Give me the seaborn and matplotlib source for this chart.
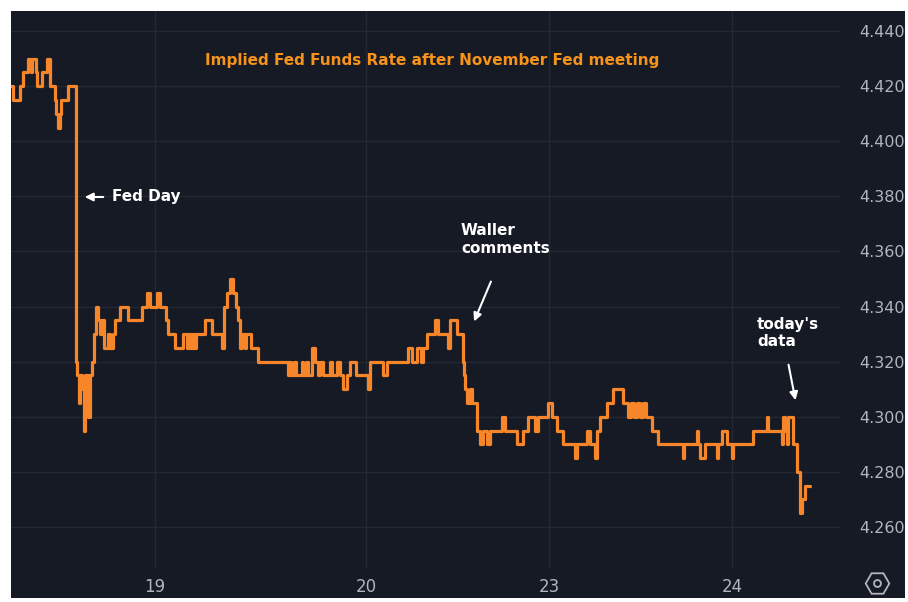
"""
Implied Fed Funds Rate after November Fed meeting - TradingView-style chart
"""

import pandas as pd
import matplotlib
matplotlib.use('Agg')
import matplotlib.pyplot as plt
from matplotlib.patches import Rectangle
import seaborn as sns

# Данные: номер бара (начало уровня) и ставка
bar = [0, 2, 9, 12, 17, 20, 21, 25, 26, 31,
       36, 39, 44, 45, 47, 49, 50, 57, 65, 66,
       68, 69, 71, 73, 74, 77, 79, 81, 83, 85,
       87, 89, 91, 93, 97, 99, 102, 104, 109, 117,
       131, 136, 139, 146, 149, 155, 157, 164, 172, 176,
       178, 180, 182, 183, 185, 194, 201, 211, 213, 216,
       219, 222, 225, 227, 229, 231, 234, 235, 240, 247,
       277, 279, 280, 283, 285, 291, 292, 295, 297, 301,
       304, 307, 309, 312, 319, 321, 326, 329, 332, 336,
       339, 345, 357, 359, 372, 376, 397, 401, 406, 410,
       412, 416, 424, 427, 437, 439, 446, 452, 453, 454,
       456, 459, 461, 466, 469, 472, 476, 479, 491, 494,
       506, 512, 517, 524, 527, 537, 541, 546, 552, 564,
       566, 576, 579, 584, 586, 589, 596, 602, 612, 617,
       620, 623, 626, 629, 632, 635, 641, 647, 672, 673,
       686, 687, 689, 694, 706, 707, 711, 716, 721, 722,
       742, 756, 757, 771, 772, 774, 776, 777, 782, 786,
       789, 791, 794, 799]
rate = [4.420, 4.415, 4.420, 4.425, 4.430, 4.425, 4.430, 4.425, 4.420, 4.425,
        4.430, 4.420, 4.415, 4.410, 4.405, 4.410, 4.415, 4.420, 4.320, 4.315,
        4.305, 4.315, 4.310, 4.295, 4.315, 4.300, 4.315, 4.320, 4.330, 4.340,
        4.335, 4.330, 4.335, 4.325, 4.330, 4.325, 4.330, 4.335, 4.340, 4.335,
        4.340, 4.345, 4.340, 4.345, 4.340, 4.335, 4.330, 4.325, 4.330, 4.325,
        4.330, 4.325, 4.330, 4.325, 4.330, 4.335, 4.330, 4.325, 4.340, 4.345,
        4.350, 4.345, 4.340, 4.335, 4.325, 4.330, 4.325, 4.330, 4.325, 4.320,
        4.315, 4.320, 4.315, 4.320, 4.315, 4.320, 4.315, 4.320, 4.315, 4.325,
        4.320, 4.315, 4.320, 4.315, 4.320, 4.315, 4.320, 4.315, 4.310, 4.315,
        4.320, 4.315, 4.310, 4.320, 4.315, 4.320, 4.325, 4.320, 4.325, 4.320,
        4.325, 4.330, 4.335, 4.330, 4.325, 4.335, 4.330, 4.320, 4.315, 4.310,
        4.305, 4.310, 4.305, 4.295, 4.290, 4.295, 4.290, 4.295, 4.300, 4.295,
        4.290, 4.295, 4.300, 4.295, 4.300, 4.305, 4.300, 4.295, 4.290, 4.285,
        4.290, 4.295, 4.290, 4.285, 4.295, 4.300, 4.305, 4.310, 4.305, 4.300,
        4.305, 4.300, 4.305, 4.300, 4.305, 4.300, 4.295, 4.290, 4.285, 4.290,
        4.295, 4.290, 4.285, 4.290, 4.285, 4.290, 4.295, 4.290, 4.285, 4.290,
        4.295, 4.300, 4.295, 4.290, 4.300, 4.295, 4.290, 4.300, 4.290, 4.280,
        4.265, 4.270, 4.275, 4.275]

day_ticks = [144, 355, 538, 721]
day_labels = ['19', '20', '23', '24']
y_ticks = [4.26, 4.28, 4.30, 4.32, 4.34, 4.36, 4.38, 4.40, 4.42, 4.44]

title = 'Implied Fed Funds Rate after November Fed meeting'

BG = '#161a25'
GRID = '#242833'
ORANGE = '#f7862b'
LABEL = '#b2b5be'

W, H = 908, 602


def fx(px):
    return px / W


def fy(py):
    return 1 - py / H


def main():
    sns.set_theme(style='dark', rc={'axes.facecolor': BG,
                                    'figure.facecolor': 'white'})
    plt.rcParams['font.family'] = ['DejaVu Sans']

    df = pd.DataFrame({'bar': bar, 'rate': rate})

    fig = plt.figure(figsize=(W / 100, H / 100), dpi=100)
    fig.patches.append(Rectangle((fx(11), fy(598)), fx(905) - fx(11),
                                 fy(11) - fy(598), transform=fig.transFigure,
                                 facecolor=BG, edgecolor='none', zorder=-10))
    ax = fig.add_axes([fx(11), fy(568), fx(840) - fx(11), fy(11) - fy(568)])

    sns.lineplot(data=df, x='bar', y='rate', ax=ax, color=ORANGE,
                 linewidth=2.3, drawstyle='steps-post', estimator=None)

    ax.set_xlim(0, 829)
    ax.set_ylim(4.2451, 4.4473)
    ax.set_xticks(day_ticks)
    ax.set_xticklabels(day_labels, family=['Liberation Sans Narrow', 'DejaVu Sans'])
    ax.set_yticks(y_ticks)
    ax.set_yticklabels([f'{v:.3f}' for v in y_ticks])
    ax.yaxis.tick_right()
    ax.tick_params(axis='y', colors=LABEL, labelsize=11.5, length=0, pad=14)
    ax.tick_params(axis='x', colors=LABEL, labelsize=12, length=0, pad=7)
    ax.grid(True, color=GRID, linewidth=1)
    for s in ax.spines.values():
        s.set_visible(False)
    ax.set_xlabel('')
    ax.set_ylabel('')

    # Заголовок и подписи
    fig.text(fx(432), fy(60), title, color='#f7931a', fontsize=11,
             fontweight='bold', ha='center', va='center')

    ann = dict(color='white', fontsize=11, fontweight='bold')
    arrow = dict(arrowstyle='-|>', color='white', lw=1.5, mutation_scale=12)

    fig.text(fx(112), fy(197), 'Fed Day', ha='left', va='center', **ann)
    ax.annotate('', xy=(fx(82), fy(197)), xytext=(fx(106), fy(197)),
                xycoords='figure fraction', arrowprops=arrow,
                annotation_clip=False)

    fig.text(fx(461), fy(240), 'Waller\ncomments', ha='left', va='center',
             linespacing=1.25, **ann)
    ax.annotate('', xy=(fx(473), fy(324)), xytext=(fx(492), fy(279)),
                xycoords='figure fraction', arrowprops=arrow,
                annotation_clip=False)

    fig.text(fx(757), fy(333), "today's\ndata", ha='left', va='center',
             linespacing=1.25, **ann)
    ax.annotate('', xy=(fx(796), fy(403)), xytext=(fx(788), fy(362)),
                xycoords='figure fraction', arrowprops=arrow,
                annotation_clip=False)

    # Иконка настроек
    fig.lines.append(plt.Line2D([fx(877)], [fy(583)], marker='H',
                                markersize=17, markerfacecolor='none',
                                markeredgecolor=LABEL, markeredgewidth=1.3,
                                transform=fig.transFigure))
    fig.lines.append(plt.Line2D([fx(877)], [fy(583)], marker='o',
                                markersize=5, markerfacecolor='none',
                                markeredgecolor=LABEL, markeredgewidth=1.3,
                                transform=fig.transFigure))

    fig.savefig('out.png', dpi=100, facecolor='white')
    plt.close(fig)


if __name__ == '__main__':
    main()
